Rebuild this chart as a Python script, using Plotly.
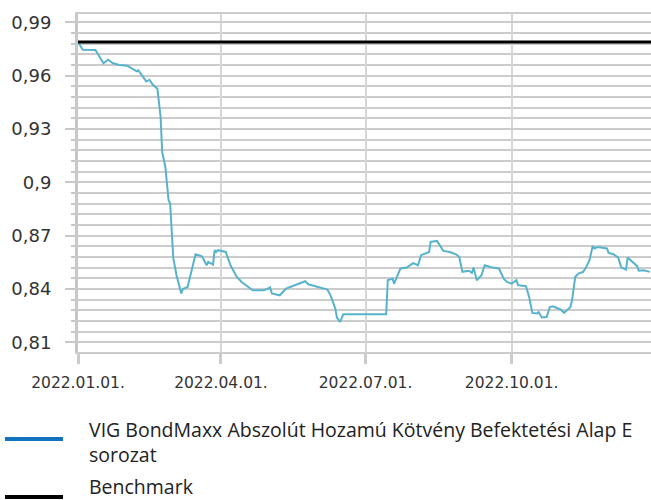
import plotly.graph_objects as go

# ---- data ----
fund_dates = [
    "2022-01-01", "2022-01-04", "2022-01-12", "2022-01-15", "2022-01-17", "2022-01-20",
    "2022-01-23", "2022-01-27", "2022-02-01", "2022-02-07", "2022-02-08", "2022-02-13",
    "2022-02-15", "2022-02-17", "2022-02-20", "2022-02-21", "2022-02-22", "2022-02-23",
    "2022-02-25", "2022-02-27", "2022-02-28", "2022-03-02", "2022-03-04", "2022-03-07",
    "2022-03-08", "2022-03-11", "2022-03-16", "2022-03-20", "2022-03-23", "2022-03-24",
    "2022-03-27", "2022-03-28", "2022-03-29", "2022-03-30", "2022-04-04", "2022-04-07",
    "2022-04-11", "2022-04-14", "2022-04-18", "2022-04-21", "2022-04-28", "2022-05-02",
    "2022-05-03", "2022-05-08", "2022-05-12", "2022-05-18", "2022-05-24", "2022-05-26",
    "2022-05-31", "2022-06-07", "2022-06-09", "2022-06-12", "2022-06-13", "2022-06-15",
    "2022-06-17", "2022-07-14", "2022-07-15", "2022-07-18", "2022-07-19", "2022-07-23",
    "2022-07-27", "2022-07-31", "2022-08-03", "2022-08-05", "2022-08-10", "2022-08-11",
    "2022-08-15", "2022-08-19", "2022-08-23", "2022-08-27", "2022-08-29", "2022-08-31",
    "2022-09-04", "2022-09-06", "2022-09-07", "2022-09-09", "2022-09-12", "2022-09-14",
    "2022-09-19", "2022-09-23", "2022-09-26", "2022-09-28", "2022-10-01", "2022-10-04",
    "2022-10-05", "2022-10-10", "2022-10-12", "2022-10-14", "2022-10-17", "2022-10-18",
    "2022-10-20", "2022-10-23", "2022-10-25", "2022-10-27", "2022-11-01", "2022-11-03",
    "2022-11-07", "2022-11-08", "2022-11-10", "2022-11-12", "2022-11-15", "2022-11-17",
    "2022-11-19", "2022-11-21", "2022-11-22", "2022-11-24", "2022-11-30", "2022-12-01",
    "2022-12-04", "2022-12-07", "2022-12-09", "2022-12-12", "2022-12-13", "2022-12-16",
    "2022-12-19", "2022-12-20", "2022-12-23", "2022-12-27",
]
fund_values = [
    0.9790, 0.9746, 0.9745, 0.9700, 0.9670, 0.9690,
    0.9670, 0.9660, 0.9656, 0.9624, 0.9630, 0.9567,
    0.9577, 0.9550, 0.9526, 0.9447, 0.9368, 0.9170,
    0.9086, 0.8900, 0.8880, 0.8573, 0.8477, 0.8374,
    0.8400, 0.8411, 0.8595, 0.8584, 0.8533, 0.8552,
    0.8537, 0.8618, 0.8608, 0.8618, 0.8608, 0.8533,
    0.8467, 0.8439, 0.8415, 0.8392, 0.8392, 0.8408,
    0.8374, 0.8364, 0.8402, 0.8424, 0.8443, 0.8426,
    0.8415, 0.8396, 0.8364, 0.8289, 0.8239, 0.8214,
    0.8257, 0.8257, 0.8449, 0.8458, 0.8430, 0.8515,
    0.8520, 0.8545, 0.8533, 0.8590, 0.8608, 0.8665,
    0.8670, 0.8614, 0.8608, 0.8595, 0.8580, 0.8496,
    0.8502, 0.8490, 0.8520, 0.8449, 0.8477, 0.8533,
    0.8520, 0.8515, 0.8458, 0.8439, 0.8430, 0.8449,
    0.8421, 0.8415, 0.8355, 0.8265, 0.8262, 0.8270,
    0.8239, 0.8242, 0.8298, 0.8302, 0.8283, 0.8265,
    0.8298, 0.8336, 0.8467, 0.8486, 0.8496, 0.8524,
    0.8562, 0.8641, 0.8628, 0.8636, 0.8628, 0.8603,
    0.8595, 0.8577, 0.8520, 0.8509, 0.8577, 0.8552,
    0.8528, 0.8502, 0.8505, 0.8496,
]
bench_dates = ["2022-01-01", "2022-12-31"]
bench_values = [0.979, 0.979]

fund_name = "VIG BondMaxx Abszolút Hozamú Kötvény Befektetési Alap E sorozat"
fund_label = "VIG BondMaxx Abszolút Hozamú Kötvény Befektetési Alap E<br>sorozat"
bench_name = "Benchmark"

y_ticks = [0.81, 0.84, 0.87, 0.90, 0.93, 0.96, 0.99]

GRID = "#cccccc"
AX_FONT = "DejaVu Sans"
LEG_FONT = "Open Sans"

fig = go.Figure()
fig.add_trace(go.Scatter(x=fund_dates, y=fund_values, mode="lines", name=fund_name,
                         line=dict(color="#57b3cb", width=2), showlegend=False))
fig.add_trace(go.Scatter(x=bench_dates, y=bench_values, mode="lines", name=bench_name,
                         line=dict(color="#000000", width=3), showlegend=False))

fig.update_layout(
    width=651, height=500,
    margin=dict(l=78, r=0, t=14, b=148),
    plot_bgcolor="white", paper_bgcolor="white",
    separators=", ",
    showlegend=False,
    xaxis=dict(
        type="date",
        range=["2022-01-01", "2022-12-27 17:00"],
        tick0="2022-01-01", dtick="M3", tickformat="%Y.%m.%d.",
        showgrid=True, gridcolor="#d6d6d6", gridwidth=2,
        showline=True, linecolor=GRID, linewidth=2, mirror=True,
        ticks="outside", ticklen=10, tickwidth=3, tickcolor=GRID,
        tickfont=dict(family=AX_FONT, size=15.5, color="#333333"),
        ticklabelstandoff=5,
        zeroline=False,
    ),
    yaxis=dict(
        range=[0.8045, 0.9947],
        tickvals=y_ticks, tickformat=".2~f",
        showgrid=True, gridcolor=GRID, gridwidth=2,
        showline=True, linecolor="#c8c8c8", linewidth=3,
        ticks="outside", ticklen=10, tickwidth=2, tickcolor="#c8c8c8",
        tickfont=dict(family=AX_FONT, size=18, color="#333333"),
        ticklabelstandoff=10,
        minor=dict(dtick=0.006, tick0=0.81, ticks="outside", ticklen=4, tickwidth=2,
                   tickcolor="#c8c8c8", showgrid=True, gridcolor=GRID, gridwidth=2),
        zeroline=False,
    ),
)

# legend drawn manually (legend swatch colours differ from line colours in the reference)
def px_x(px):
    return (px - 78) / 573.0

def px_y(py):
    return (352 - py) / 338.0

fig.add_shape(type="line", xref="paper", yref="paper",
              x0=px_x(5), x1=px_x(63), y0=px_y(439), y1=px_y(439),
              line=dict(color="#1173bf", width=4))
fig.add_shape(type="line", xref="paper", yref="paper",
              x0=px_x(5), x1=px_x(63), y0=px_y(497), y1=px_y(497),
              line=dict(color="#000000", width=4))
fig.add_annotation(xref="paper", yref="paper", x=px_x(88), y=px_y(442),
                   xanchor="left", yanchor="middle", align="left", showarrow=False,
                   borderpad=0,
                   text=fund_label, font=dict(family=LEG_FONT, size=19.5, color="#222222"))
fig.add_annotation(xref="paper", yref="paper", x=px_x(88), y=px_y(486),
                   xanchor="left", yanchor="middle", align="left", showarrow=False,
                   borderpad=0,
                   text=bench_name, font=dict(family=LEG_FONT, size=19.5, color="#222222"))

fig.write_html("out.html", config={"displayModeBar": False},
               post_script="document.body.style.margin='0';")
